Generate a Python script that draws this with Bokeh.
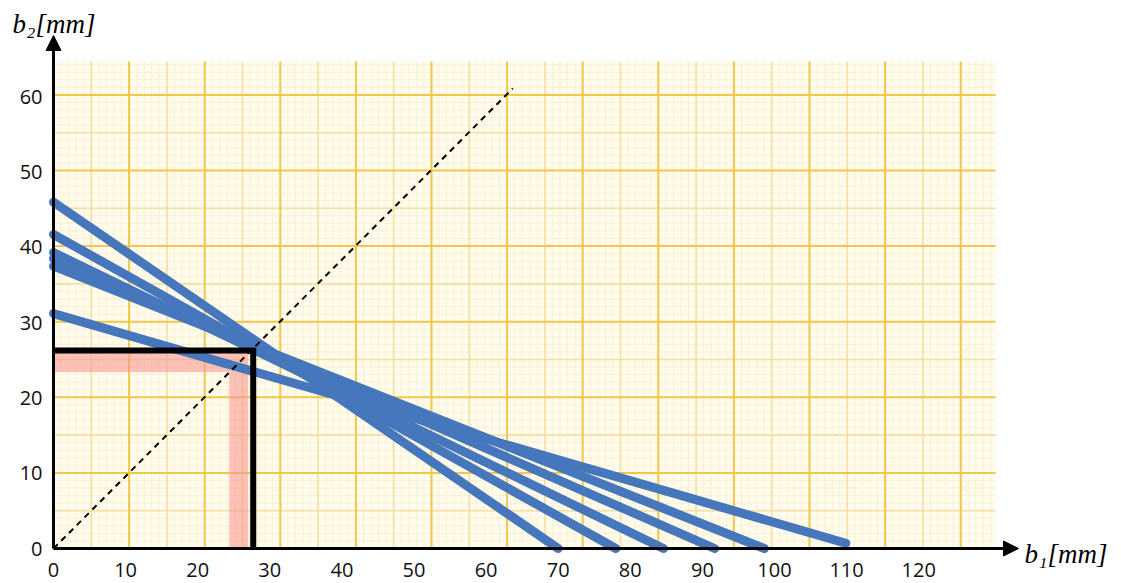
import numpy as np
from bokeh.plotting import figure
from bokeh.models import (LinearAxis, FixedTicker, Range1d, Arrow, NormalHead, Label)
from bokeh.embed import file_html
from bokeh.resources import INLINE

# ---------------- data ----------------
x_ticks = [0, 10, 20, 30, 40, 50, 60, 70, 80, 90, 100, 110, 120]
y_ticks = [0, 10, 20, 30, 40, 50, 60]

# six straight lines: from (0, b2_start) to (b1_end, b2_end)
line_b2_start = [46.0, 41.7, 39.3, 38.5, 37.5, 31.2]
line_b1_end = [70.0, 78.0, 84.6, 91.7, 98.6, 109.9]
line_b2_end = [0.0, 0.0, 0.0, 0.0, 0.0, 0.7]

# chosen design point (black frame) and tolerance band (pink)
chosen_b1 = 27.7
chosen_b2 = 26.3
band_b1 = 25.7
band_b2 = 24.7

# dashed diagonal
diag_b1 = [0.0, 63.7]
diag_b2 = [0.0, 61.1]

x_label = "b\u2081[mm]"
y_label = "b\u2082[mm]"

# ---------------- figure ----------------
W, H = 1121, 583
XS, YS = 7.21, 7.53          # px per unit
x0_px, y0_px = 53, 548        # position of origin inside the figure

p = figure(width=W, height=H, output_backend="svg", toolbar_location=None,
           x_axis_type=None, y_axis_type=None,
           x_range=Range1d(-x0_px / XS, (W - x0_px) / XS),
           y_range=Range1d(-(H - y0_px) / YS, y0_px / YS),
           min_border_left=0, min_border_right=0, min_border_top=0, min_border_bottom=0)
p.outline_line_color = None
p.background_fill_color = "white"
p.border_fill_color = "white"

# ---------------- graph paper background ----------------
paper_right, paper_top = (995 - x0_px) / XS, (y0_px - 61) / YS
gx, gy = 37.8 / XS, 37.8 / YS
p.quad(left=[0], right=[paper_right], bottom=[0], top=[paper_top],
       fill_color="#fffcee", line_color=None)

fx = np.arange(0, paper_right, gx / 5)
fy = np.arange(0, paper_top, gy / 5)
p.segment(x0=fx, y0=0, x1=fx, y1=paper_top, line_color="#f9f0d2", line_width=1)
p.segment(x0=0, y0=fy, x1=paper_right, y1=fy, line_color="#f9f0d2", line_width=1)

vx = np.arange(0, paper_right, gx)
hy = np.arange(0, paper_top, gy)
vx_minor, vx_major = vx[1::2], vx[0::2]
hy_minor, hy_major = hy[1::2], hy[0::2]
p.segment(x0=vx_minor, y0=0, x1=vx_minor, y1=paper_top, line_color="#f5dfa0", line_width=1.6)
p.segment(x0=0, y0=hy_minor, x1=paper_right, y1=hy_minor, line_color="#f5dfa0", line_width=1.6)
p.segment(x0=vx_major, y0=0, x1=vx_major, y1=paper_top, line_color="#f1c64a", line_width=2)
p.segment(x0=0, y0=hy_major, x1=paper_right, y1=hy_major, line_color="#f1c64a", line_width=2)

# ---------------- pink band ----------------
p.line([0, band_b1, band_b1], [band_b2, band_b2, 0], line_color="#f89a92",
       line_alpha=0.6, line_width=19, line_join="miter")

# ---------------- blue lines ----------------
xs = [[0, e] for e in line_b1_end]
ys = [[s, e] for s, e in zip(line_b2_start, line_b2_end)]
p.multi_line(xs, ys, line_color="#4677bd", line_width=9, line_cap="round")

# ---------------- black frame ----------------
p.line([0, chosen_b1, chosen_b1], [chosen_b2, chosen_b2, 0], line_color="black",
       line_width=6, line_join="miter")

# ---------------- dashed diagonal ----------------
p.line(diag_b1, diag_b2, line_color="black", line_width=2, line_dash="6 5")

# ---------------- axes ----------------
xaxis = LinearAxis(ticker=FixedTicker(ticks=x_ticks), fixed_location=0)
yaxis = LinearAxis(ticker=FixedTicker(ticks=y_ticks), fixed_location=0)
for ax in (xaxis, yaxis):
    ax.axis_line_color = None
    ax.major_tick_line_color = None
    ax.minor_tick_line_color = None
    ax.major_tick_out = 0
    ax.major_tick_in = 0
    ax.major_label_text_font = "Open Sans"
    ax.major_label_text_font_size = "20px"
    ax.major_label_text_color = "#111111"
    ax.major_label_standoff = 11
xaxis.major_label_standoff = 14
p.add_layout(xaxis, "below")
p.add_layout(yaxis, "left")

arrow_x_tip = (1018 - x0_px) / XS
arrow_y_tip = (y0_px - 35) / YS
p.add_layout(Arrow(end=NormalHead(size=15, fill_color="black", line_color="black"),
                   x_start=0, y_start=0, x_end=arrow_x_tip, y_end=0,
                   line_width=3, line_color="black"))
p.add_layout(Arrow(end=NormalHead(size=15, fill_color="black", line_color="black"),
                   x_start=0, y_start=0, x_end=0, y_end=arrow_y_tip,
                   line_width=3, line_color="black"))

p.add_layout(Label(x=(12 - x0_px) / XS, y=(y0_px - 8) / YS, text=y_label,
                   text_font="Liberation Serif", text_font_style="italic",
                   text_font_size="27px", text_baseline="top", text_align="left",
                   text_color="black"))
p.add_layout(Label(x=(1024 - x0_px) / XS, y=(y0_px - 553) / YS, text=x_label,
                   text_font="Liberation Serif", text_font_style="italic",
                   text_font_size="27px", text_baseline="middle", text_align="left",
                   text_color="black"))

open("out.html", "w").write(file_html(p, INLINE))
